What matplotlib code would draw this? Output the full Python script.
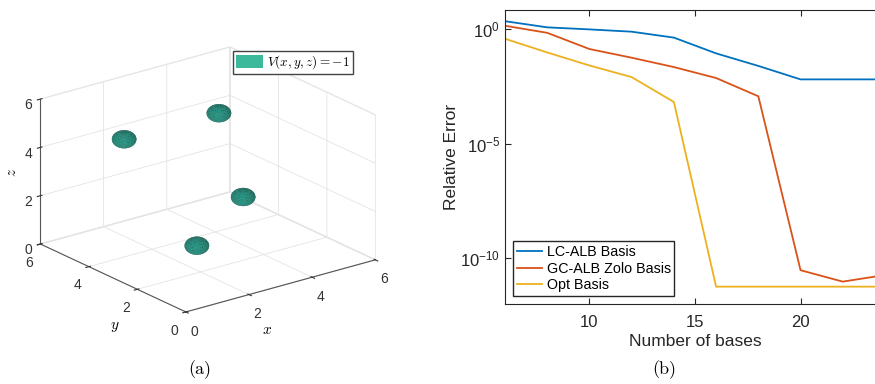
import numpy as np
import matplotlib.pyplot as plt
from matplotlib.patches import Patch
from matplotlib.ticker import FixedLocator, FuncFormatter

plt.rcParams['font.family'] = ['Liberation Sans', 'DejaVu Sans']
plt.rcParams['mathtext.fontset'] = 'cm'

# panel (a): centres of the V = -1 wells
well_x = [1.5, 1.5, 4.5, 4.5]
well_y = [1.5, 4.5, 4.5, 3.5]
well_z = [1.5, 4.5, 4.5, 1.5]
well_r = [0.31, 0.31, 0.33]

# panel (b): relative error vs number of bases
n_bases = [6, 8, 10, 12, 14, 16, 18, 20, 22, 24]
lc_alb = [10**0.36, 10**0.09, 10**0.0, 10**-0.1, 10**-0.36, 10**-1.05, 10**-1.6, 10**-2.19, 10**-2.19, 10**-2.19]
gc_alb = [10**0.16, 10**-0.15, 10**-0.86, 10**-1.24, 10**-1.65, 10**-2.13, 10**-2.93, 10**-10.55, 10**-11.05, 10**-10.76]
opt = [10**-0.41, 10**-1.01, 10**-1.58, 10**-2.09, 10**-3.18, 10**-11.27, 10**-11.27, 10**-11.27, 10**-11.27, 10**-11.27]

fig = plt.figure(figsize=(8.75, 3.84), dpi=100)

# ---- (a) ----
ax1 = fig.add_axes([-0.018, 0.05, 0.50, 0.94], projection='3d')
ax1.set_proj_type('ortho')
ax1.view_init(elev=21, azim=-127.5)
ax1.set_box_aspect((1, 1, 0.65))

u = np.linspace(0, 2*np.pi, 30)
v = np.linspace(0, np.pi, 20)
for cx, cy, cz in zip(well_x, well_y, well_z):
    X = cx + well_r[0]*np.outer(np.cos(u), np.sin(v))
    Y = cy + well_r[1]*np.outer(np.sin(u), np.sin(v))
    Z = cz + well_r[2]*np.outer(np.ones_like(u), np.cos(v))
    ax1.plot_surface(X, Y, Z, color='#2a9d8a', shade=True, linewidth=0, antialiased=True)

ax1.set_xlim(0, 6)
ax1.set_ylim(0, 6)
ax1.set_zlim(0, 6)
for axis in (ax1.xaxis, ax1.yaxis, ax1.zaxis):
    axis.set_ticks([0, 2, 4, 6])
    axis.pane.fill = False
    axis.pane.set_edgecolor('#dddddd')
    axis.line.set_color('#555555')
    axis._axinfo['grid']['color'] = '#e4e4e4'
    axis._axinfo['grid']['linewidth'] = 0.6
ax1.tick_params(labelsize=10, colors='#333333', pad=0)
ax1.tick_params(axis='z', pad=-3)
fig.text(267/875, 1 - 330/384, '$x$', fontsize=11, ha='center', va='center')
fig.text(115/875, 1 - 327/384, '$y$', fontsize=11, ha='center', va='center')
fig.text(12/875, 1 - 172/384, '$z$', fontsize=11, ha='center', va='center', rotation=90)

ax1.legend(handles=[Patch(facecolor='#3cb89a', edgecolor='none', label='$V(x,y,z)=-1$')],
           loc='upper left', bbox_to_anchor=(233/875, 1 - 51/384), bbox_transform=fig.transFigure,
           fontsize=9.5, fancybox=False, framealpha=1, edgecolor='#444444',
           handlelength=2.1, handleheight=1.1, handletextpad=0.3, borderpad=0.2, borderaxespad=0)
fig.text(200/875, 1 - 370/384, '(a)', family='cmr10', fontsize=13, ha='center', va='center')

# ---- (b) ----
ax2 = fig.add_axes([505/875, 80/384, 380/875, 294/384])
ax2.plot(n_bases, lc_alb, color='#0072BD', lw=1.3, label='LC-ALB Basis')
ax2.plot(n_bases, gc_alb, color='#D95319', lw=1.3, label='GC-ALB Zolo Basis')
ax2.plot(n_bases, opt, color='#EDB120', lw=1.3, label='Opt Basis')
ax2.set_yscale('log')
ax2.set_xlim(6, 24)
ax2.set_ylim(10**-12.03, 10**0.85)
ax2.xaxis.set_major_locator(FixedLocator([10, 15, 20]))
ax2.yaxis.set_major_locator(FixedLocator([1e-10, 1e-5, 1e0]))
ax2.yaxis.set_minor_locator(FixedLocator([]))
ax2.yaxis.set_major_formatter(FuncFormatter(lambda val, pos: r'$\mathregular{10^{%d}}$' % round(np.log10(val))))
ax2.tick_params(direction='in', top=True, right=True, labelsize=12, length=4, width=0.8, colors='#262626')
ax2.tick_params(axis='x', pad=8)
for s in ax2.spines.values():
    s.set_color('#262626')
    s.set_linewidth(0.8)
ax2.set_xlabel('Number of bases', fontsize=12.5, color='#262626', labelpad=3)
ax2.set_ylabel('Relative Error', fontsize=12.5, color='#262626', labelpad=1)
ax2.legend(loc='lower left', fontsize=10.3, fancybox=False, framealpha=1, edgecolor='#262626',
           handlelength=1.8, handletextpad=0.3, borderpad=0.25, labelspacing=0.2,
           borderaxespad=0, bbox_to_anchor=(0.021, 0.027))
fig.text(664/875, 1 - 370/384, '(b)', family='cmr10', fontsize=13, ha='center', va='center')

fig.savefig('out.png', dpi=100)
